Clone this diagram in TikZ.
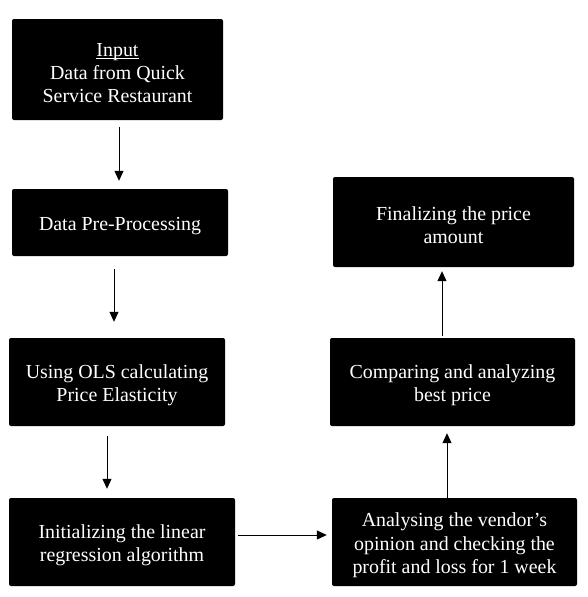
\documentclass[tikz,border=0pt]{standalone}
\usepackage{fontspec}
\setmainfont{Liberation Serif}
\usetikzlibrary{calc,arrows.meta}
\newcommand{\myul}[1]{\setbox0\hbox{#1}\rlap{\rule[-2.4pt]{\wd0}{0.9pt}}\box0}
\begin{document}
\begin{tikzpicture}[x=1pt,y=-1pt,
  box/.style={fill=black,draw=none,rounded corners=2pt,inner sep=0pt},
  txt/.style={text=white,align=center,font=\fontsize{19.9}{23.3}\selectfont,inner sep=0pt},
  arr/.style={draw=black,line width=1pt,-{Triangle[length=10pt,width=9pt]}}]
\useasboundingbox[fill=white] (0,0) rectangle (587,597);
\node[box,minimum width=211pt,minimum height=101pt] (b1) at (117.5,69.5) {};
\node[box,minimum width=216pt,minimum height=67pt] (b2) at (120,222.5) {};
\node[box,minimum width=216pt,minimum height=88pt] (b3) at (117,382) {};
\node[box,minimum width=226pt,minimum height=88pt] (b4) at (122,542) {};
\node[box,minimum width=245pt,minimum height=88pt] (b5) at (454.5,542) {};
\node[box,minimum width=245pt,minimum height=88pt] (b6) at (452.5,382) {};
\node[box,minimum width=241pt,minimum height=90pt] (b7) at (453.5,222) {};
\node[txt] (t1) at ($(b1)+(0,3.5)$) {\myul{Input}\\Data from Quick\\Service Restaurant};
\node[txt] (t2) at ($(b2)+(0,3.5)$) {Data Pre-Processing};
\node[txt] (t3) at ($(b3)+(0,3.5)$) {Using OLS calculating\\Price Elasticity};
\node[txt] (t4) at ($(b4)+(0,3.5)$) {Initializing the linear\\regression algorithm};
\node[txt] (t5) at ($(b5)+(0,3.5)$) {Analysing the vendor’s\\opinion and checking the\\profit and loss for 1 week};
\node[txt] (t6) at ($(b6)+(0,3.5)$) {Comparing and analyzing\\best price};
\node[txt] (t7) at ($(b7)+(0,3.5)$) {Finalizing the price\\amount};
\draw[arr] ($(b1.south)+(1.5,7)$) -- ($(b2.north)+(-1,-8)$);
\draw[arr] ($(b2.south)+(-6,13)$) -- ($(b3.north)+(-3,-16)$);
\draw[arr] ($(b3.south)+(-10,10)$) -- ($(b4.north)+(-15,-9)$);
\draw[arr] ($(b4.east)+(3,-7)$) -- ($(b5.west)+(-5,-7)$);
\draw[arr] ($(b5.north)+(-7.5,0)$) -- ($(b6.south)+(-5.5,7)$);
\draw[arr] ($(b6.north)+(-10.5,-2)$) -- ($(b7.south)+(-11.5,4)$);
\end{tikzpicture}
\end{document}
